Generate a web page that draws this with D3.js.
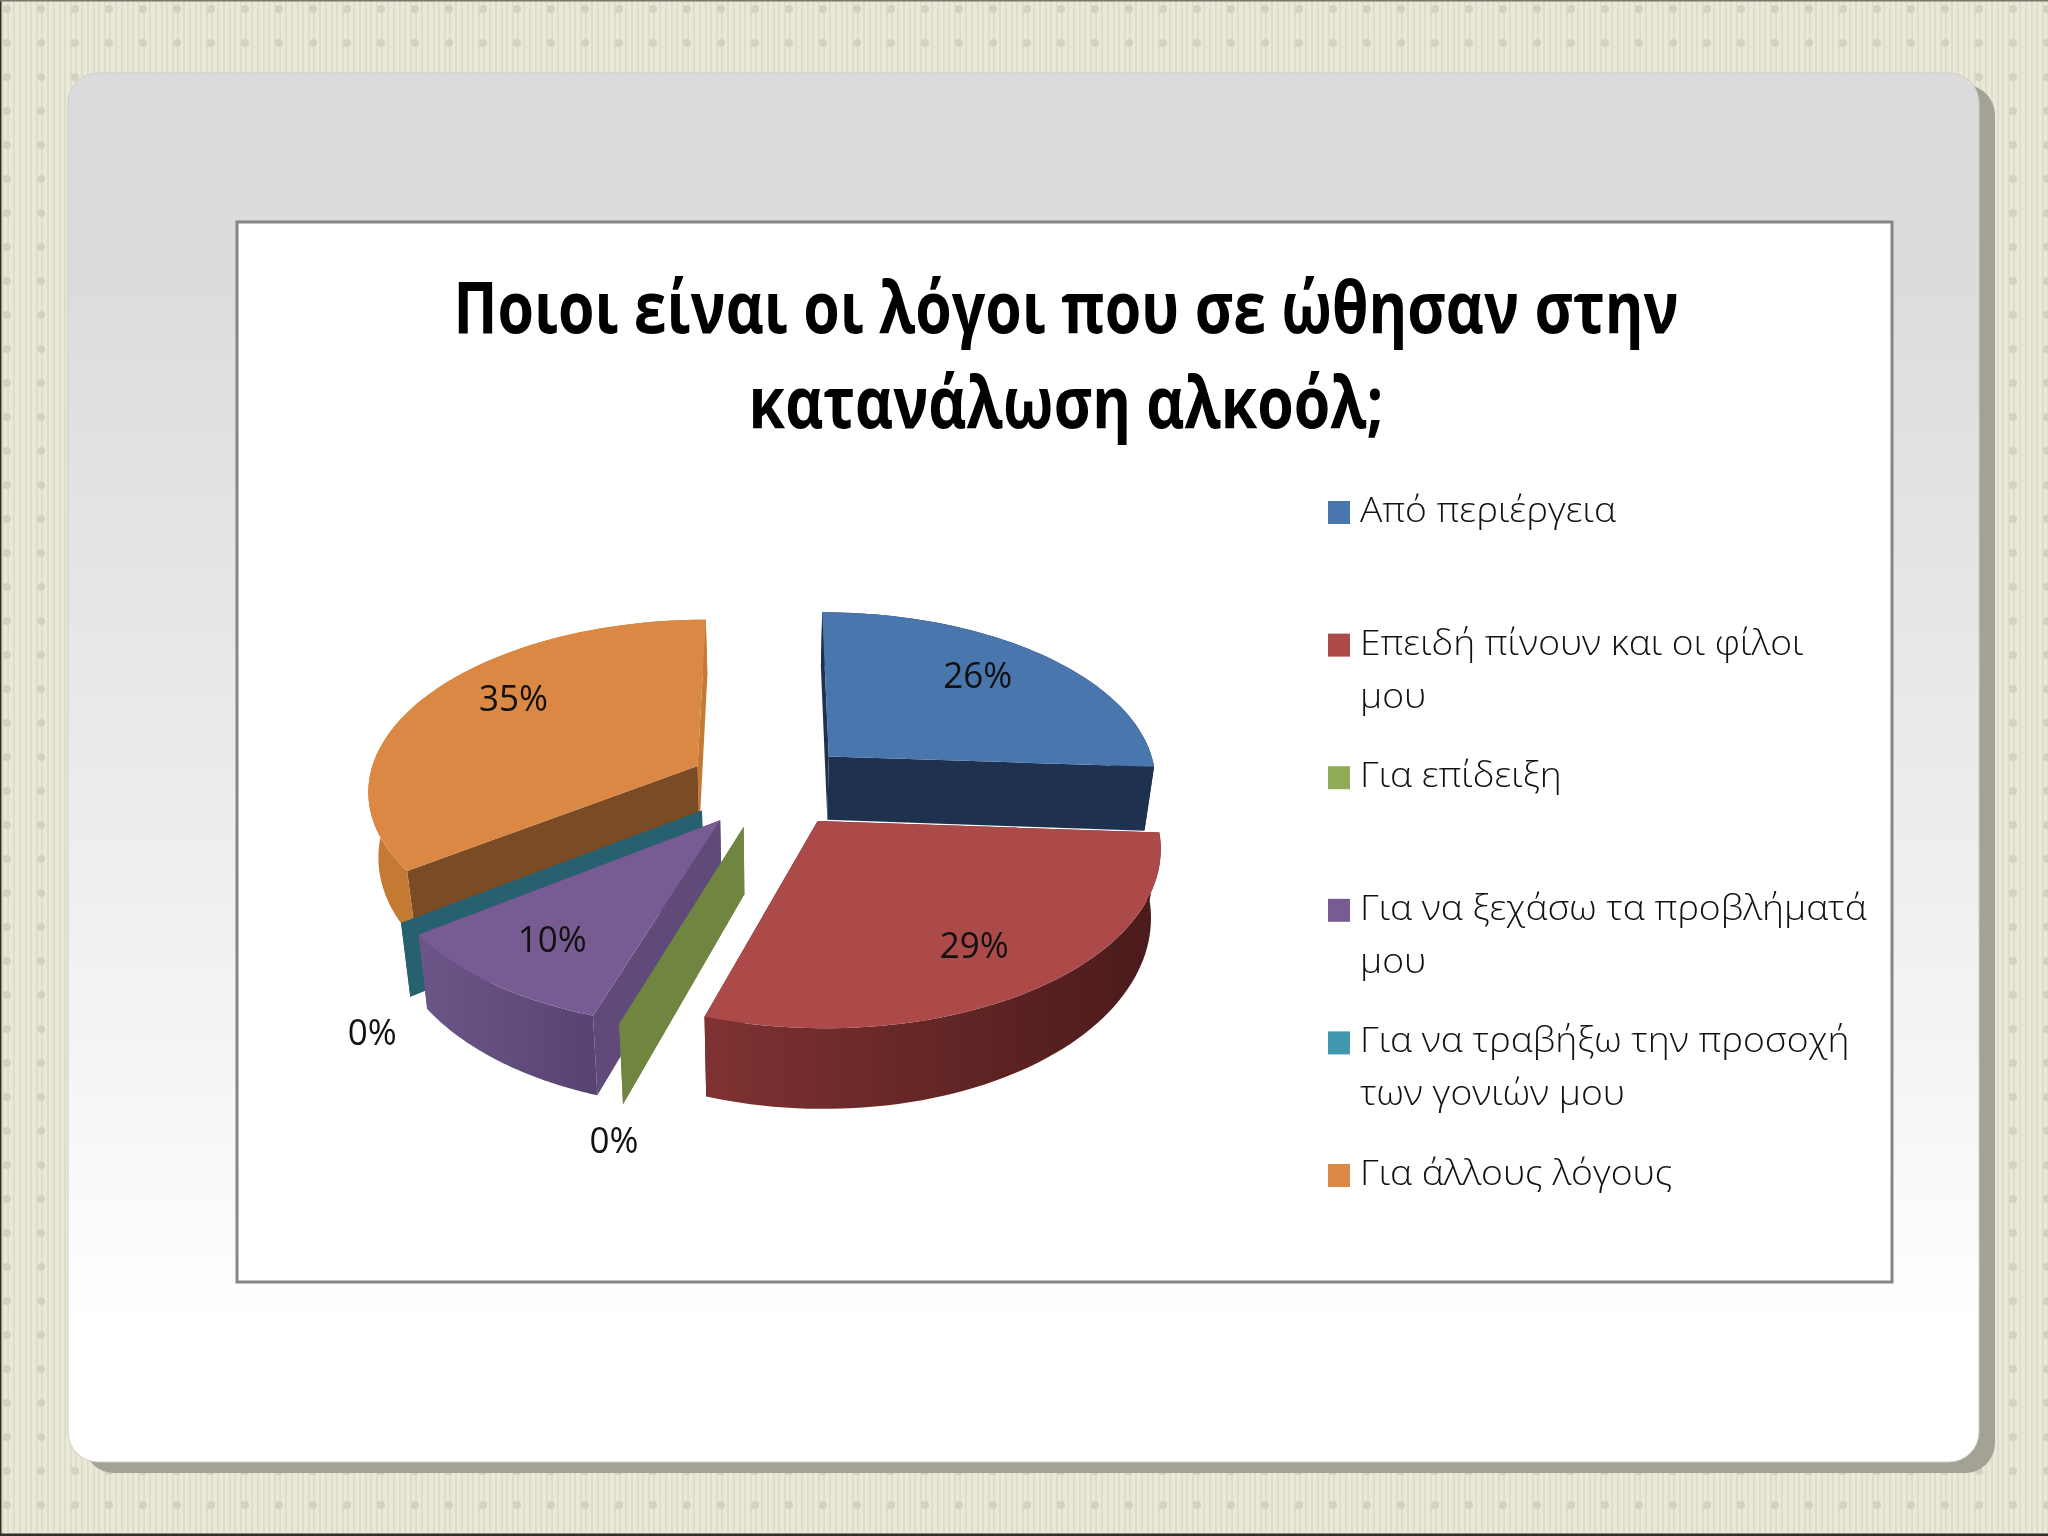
<!DOCTYPE html>
<html>
<head>
<meta charset="utf-8">
<script src="https://cdn.jsdelivr.net/npm/d3@7"></script>
<style>
  html, body { margin: 0; padding: 0; background: #e9e6d7; }
  svg { display: block; filter: blur(0.6px); }
  text { font-family: "Open Sans", "Noto Sans", sans-serif; }
</style>
</head>
<body>
<svg id="chart" width="2048" height="1536"></svg>
<script>
const titleLines = ["Ποιοι είναι οι λόγοι που σε ώθησαν στην", "κατανάλωση αλκοόλ;"];
const categories = [
  ["Από περιέργεια"],
  ["Επειδή πίνουν και οι φίλοι", "μου"],
  ["Για επίδειξη"],
  ["Για να ξεχάσω τα προβλήματά", "μου"],
  ["Για να τραβήξω την προσοχή", "των γονιών μου"],
  ["Για άλλους λόγους"]
];
const values = [26, 29, 0, 10, 0, 35];

const legendColors = ["#4a76ae", "#ac4a4a", "#8fab55", "#775c93", "#4198af", "#da8843"];
const topColors = ["#4a76ae", "#ac4a4a", "#6f8540", "#775c93", "#27606f", "#da8843"];
const sideColors = ["#1e324f", "#5a2222", "#6f8540", "#5f4a7a", "#27606f", "#7a4b24"];
const wallFrom = ["#1e324f", "#7f3232", "#6f8540", "#6c5688", "#27606f", "#c57a33"];
const wallTo = ["#1e324f", "#4a1a1a", "#6f8540", "#574370", "#27606f", "#c57a33"];
const labelNudge = [[-3, -7], [8, 12], [-9, -3], [-13, 10], [-38, -4], [8, -17]];

const svg = d3.select("#chart");
const defs = svg.append("defs");

// page background tile
const tile = defs.append("pattern").attr("id", "tile")
  .attr("width", 34).attr("height", 34).attr("patternUnits", "userSpaceOnUse")
  .attr("x", -10).attr("y", -8);
tile.append("rect").attr("width", 34).attr("height", 34).attr("fill", "#ebe8d9");
[1, 6, 12, 17, 23, 29].forEach(x => {
  tile.append("rect").attr("x", x).attr("width", 2).attr("height", 34).attr("fill", "#dedcca");
});
tile.append("circle").attr("cx", 17).attr("cy", 17).attr("r", 4).attr("fill", "#d3d2c1");

const panelFill = defs.append("linearGradient").attr("id", "panelFill")
  .attr("x1", 0).attr("y1", 0).attr("x2", 0).attr("y2", 1);
panelFill.append("stop").attr("offset", "0").attr("stop-color", "#dbdadc");
panelFill.append("stop").attr("offset", "0.15").attr("stop-color", "#dcdbdd");
panelFill.append("stop").attr("offset", "0.7").attr("stop-color", "#f4f4f5");
panelFill.append("stop").attr("offset", "0.9").attr("stop-color", "#ffffff");

values.forEach((v, i) => {
  const g = defs.append("linearGradient").attr("id", "wall" + i);
  g.append("stop").attr("offset", "0").attr("stop-color", wallFrom[i]);
  g.append("stop").attr("offset", "1").attr("stop-color", wallTo[i]);
});

svg.append("rect").attr("width", 2048).attr("height", 1536).attr("fill", "url(#tile)");
svg.append("path").attr("d", "M0.5,1536V0.5").attr("stroke", "#2e2e2a").attr("stroke-width", 2).attr("fill", "none");
svg.append("path").attr("d", "M0,1535H2048").attr("stroke", "#2e2e2a").attr("stroke-width", 3).attr("fill", "none");
svg.append("path").attr("d", "M0,0.5H2048").attr("stroke", "#77776c").attr("stroke-width", 2).attr("fill", "none");
svg.append("rect").attr("x", 84).attr("y", 85).attr("width", 1911).attr("height", 1388)
  .attr("rx", 30).attr("fill", "#a3a295");
svg.append("rect").attr("x", 68).attr("y", 73).attr("width", 1911).attr("height", 1389)
  .attr("rx", 30).attr("fill", "url(#panelFill)").attr("stroke", "#cfcfc4");
svg.append("rect").attr("x", 237).attr("y", 222).attr("width", 1655).attr("height", 1060)
  .attr("fill", "#fff").attr("stroke", "#868686").attr("stroke-width", 3);

// squeeze text so that the first string of a group fills targetWidth, keep the ratio for the rest
function squeezeTo(sel, targetWidth) {
  const ratio = targetWidth / sel.node().getComputedTextLength();
  sel.each(function() {
    d3.select(this).attr("textLength", this.getComputedTextLength() * ratio)
      .attr("lengthAdjust", "spacingAndGlyphs");
  });
}

const title = svg.append("g").selectAll("text").data(titleLines).join("text")
  .attr("x", 1066)
  .attr("y", (d, i) => 333 + i * 95)
  .attr("text-anchor", "middle")
  .attr("font-size", 72)
  .attr("font-weight", 700)
  .attr("fill", "#000")
  .text(d => d);
squeezeTo(title, 1225);

// 3D pie: d3.pie gives the angles, project() lays the unit disc on the tilted plane
const cx = 770, cy = 785, radiusX = 330, radiusY = 170, persp = 0.13, depth = 65, explode = 0.25;

function project(u, v, low) {
  const f = 1 / (1 - persp * v);
  let x = radiusX * u * f;
  let y = radiusY * v * f;
  if (low) {
    x *= 0.975;
    y += depth / (1 - 0.16 * v);
  }
  return [cx + x, cy + y];
}

const slices = d3.pie().sort(null).startAngle(0).endAngle(2 * Math.PI)(values);
const line = d3.line();

function discPoint(s, angle, r) {
  const mid = (s.startAngle + s.endAngle) / 2;
  return [
    explode * Math.sin(mid) + r * Math.sin(angle),
    -explode * Math.cos(mid) - r * Math.cos(angle)
  ];
}

function radialWall(s, angle) {
  const a = discPoint(s, angle, 0), b = discPoint(s, angle, 1);
  return line([project(a[0], a[1]), project(b[0], b[1]), project(b[0], b[1], true), project(a[0], a[1], true)]) + "Z";
}

function rim(s, low) {
  const n = 60;
  return d3.range(n + 1).map(k => {
    const p = discPoint(s, s.startAngle + (s.endAngle - s.startAngle) * k / n, 1);
    return project(p[0], p[1], low);
  });
}

// back to front
const drawOrder = [0, 5, 4, 3, 2, 1];
const pie = svg.append("g");
drawOrder.forEach(i => {
  const s = slices[i];
  const g = pie.append("g");
  g.append("path").attr("d", radialWall(s, s.endAngle)).attr("fill", wallTo[i]);
  g.append("path").attr("d", radialWall(s, s.startAngle)).attr("fill", sideColors[i]);
  if (s.value > 0) {
    const top = rim(s, false);
    g.append("path").attr("d", line(top.concat(rim(s, true).reverse())) + "Z").attr("fill", `url(#wall${i})`);
    const apex = discPoint(s, s.startAngle, 0);
    g.append("path").attr("d", line([project(apex[0], apex[1])].concat(top)) + "Z").attr("fill", topColors[i]);
  }
});

// data labels
svg.append("g").selectAll("text").data(slices).join("text")
  .attr("text-anchor", "middle")
  .attr("font-size", 37)
  .attr("fill", "#111")
  .attr("transform", (s, i) => {
    const mid = (s.startAngle + s.endAngle) / 2;
    const p = discPoint(s, mid, s.value > 0 ? 0.7 : 1);
    const pos = project(p[0], p[1], s.value === 0);
    const dy = s.value > 0 ? 12 : 52;
    return `translate(${pos[0] + labelNudge[i][0]},${pos[1] + dy + labelNudge[i][1]})`;
  })
  .text(s => s.value + "%")
  .call(sel => {
    const ratio = 69 / sel.node().getComputedTextLength();
    sel.attr("textLength", function() { return this.getComputedTextLength() * ratio; })
      .attr("lengthAdjust", "spacingAndGlyphs");
  });

// legend
const legendY = d3.scalePoint().domain(d3.range(categories.length)).range([522, 1185]);
const legend = svg.append("g").selectAll("g").data(categories).join("g")
  .attr("transform", (d, i) => `translate(1328,${legendY(i)})`);
legend.append("rect").attr("y", -21).attr("width", 22).attr("height", 23)
  .attr("fill", (d, i) => legendColors[i]);
const legendText = legend.selectAll("text").data(d => d).join("text")
  .attr("x", 32)
  .attr("y", (d, i) => i * 53)
  .attr("font-size", 35)
  .attr("font-weight", 300)
  .attr("fill", "#111")
  .text(d => d);
squeezeTo(legendText, 256);
</script>
</body>
</html>
